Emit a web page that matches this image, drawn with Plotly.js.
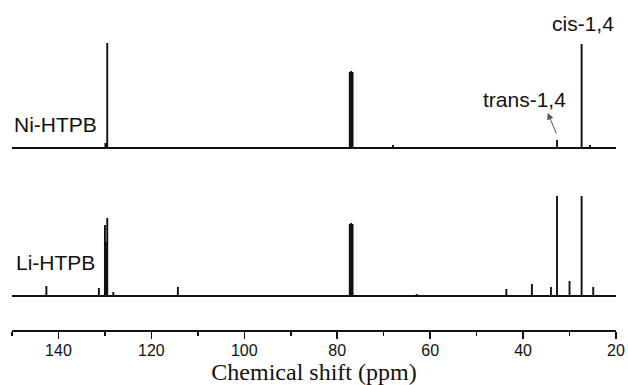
<!DOCTYPE html>
<html>
<head>
<meta charset="utf-8">
<script src="https://cdn.plot.ly/plotly-3.0.1.min.js"></script>
<style>html,body{margin:0;padding:0;background:#fff;}#chart{width:628px;height:385px;}</style>
</head>
<body>
<div id="chart"></div>
<script>
// Chemical shift range (ppm)
const shiftRange = [150, 20];

// Ni-HTPB peaks: chemical shift (ppm) and relative intensity
const niShift  = [129.9, 129.5, 77.3, 77.0, 76.7, 68.0, 32.7, 27.4, 25.6];
const niHeight = [5, 105, 76, 77, 76, 3, 8, 104, 3];

// Li-HTPB peaks
const liShift  = [142.6, 131.3, 130.0, 129.8, 129.5, 128.2, 114.3, 77.3, 77.0, 76.7, 62.9, 43.6, 38.1, 34.0, 32.7, 30.0, 27.4, 24.9];
const liHeight = [10, 8, 71, 54, 78, 4, 9, 72, 73, 72, 2, 7, 12, 9, 100, 15, 100, 9];

// Axis tick labels
const tickVals = [140, 120, 100, 80, 60, 40, 20];
const tickText = ['140', '120', '100', '80', '60', '40', '20'];

// Labels
const niLabel = 'Ni-HTPB';
const liLabel = 'Li-HTPB';
const cisLabel = 'cis-1,4';
const transLabel = 'trans-1,4';
const xTitle = 'Chemical shift (ppm)';

function stickSpectrum(shifts, heights) {
  const idx = shifts.map((s, i) => i).sort((a, b) => shifts[b] - shifts[a]);
  const x = [shiftRange[0]], y = [0];
  idx.forEach(i => {
    x.push(shifts[i], shifts[i], shifts[i]);
    y.push(0, heights[i], 0);
  });
  x.push(shiftRange[1]); y.push(0);
  return {x, y};
}

const ni = stickSpectrum(niShift, niHeight);
const li = stickSpectrum(liShift, liHeight);

const lineStyle = {color: '#111', width: 1.9};

const traces = [
  {x: li.x, y: li.y, type: 'scatter', mode: 'lines', line: lineStyle, xaxis: 'x', yaxis: 'y', hoverinfo: 'skip', showlegend: false},
  {x: ni.x, y: ni.y, type: 'scatter', mode: 'lines', line: lineStyle, xaxis: 'x', yaxis: 'y2', hoverinfo: 'skip', showlegend: false}
];

const sans = 'Liberation Sans, Arial, sans-serif';
const labelFont = {family: sans, size: 21, color: '#111'};

const layout = {
  width: 628, height: 385,
  margin: {l: 12, r: 12, t: 10, b: 55},
  paper_bgcolor: '#fff', plot_bgcolor: '#fff',
  showlegend: false,
  xaxis: {
    range: shiftRange, autorange: false,
    showline: true, linecolor: '#111', linewidth: 1.5,
    showgrid: false, zeroline: false,
    ticks: 'outside', ticklen: 7, tickwidth: 1.5, tickcolor: '#111',
    tickmode: 'array', tickvals: tickVals, ticktext: tickText,
    ticklabelstandoff: -2,
    tickfont: {family: sans, size: 16, color: '#111'},
    minor: {dtick: 10, tick0: 0, ticks: 'outside', ticklen: 4, tickwidth: 1.5, tickcolor: '#111', showgrid: false},
    title: {text: xTitle, font: {family: 'Liberation Serif, Times New Roman, serif', size: 24, color: '#111'}, standoff: 0},
    anchor: 'y'
  },
  yaxis: {domain: [0, 0.46875], range: [-34, 116], visible: false, fixedrange: true},
  yaxis2: {domain: [0.46875, 1], range: [-32, 138], visible: false, fixedrange: true},
  annotations: [
    {text: niLabel, xref: 'paper', yref: 'y2', x: 0, y: 24, xanchor: 'left', yanchor: 'middle', showarrow: false, font: labelFont},
    {text: liLabel, xref: 'paper', yref: 'y', x: 0.004, y: 34, xanchor: 'left', yanchor: 'middle', showarrow: false, font: labelFont},
    {text: cisLabel, xref: 'x', yref: 'y2', x: 27.05, y: 124.5, xanchor: 'center', yanchor: 'middle', showarrow: false, font: labelFont},
    {text: transLabel, xref: 'x', yref: 'y2', x: 39.7, y: 48.5, xanchor: 'center', yanchor: 'middle', showarrow: false, font: labelFont},
    {text: '', xref: 'x', yref: 'y2', x: 34.7, y: 35, axref: 'x', ayref: 'y2', ax: 32.7, ay: 13,
     showarrow: true, arrowhead: 2, arrowsize: 1.3, arrowwidth: 1, arrowcolor: '#555'}
  ]
};

Plotly.newPlot('chart', traces, layout, {staticPlot: true, displayModeBar: false});
</script>
</body>
</html>
